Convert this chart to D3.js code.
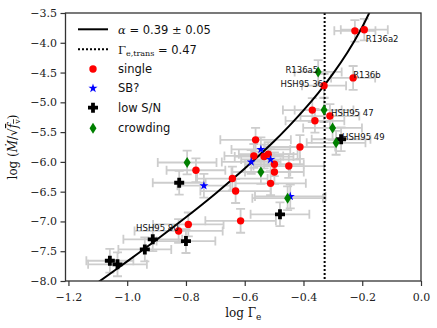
<!DOCTYPE html>
<html>
<head>
<meta charset="utf-8">
<script src="https://cdn.jsdelivr.net/npm/d3@7/dist/d3.min.js"></script>
<style>
  body { margin: 0; background: #fff; }
  .tick text { font-family: "DejaVu Serif", serif; font-size: 11px; fill: #222; }
  .tick line { stroke: #333; stroke-width: 1.2; }
  .domain { display: none; }
  .lab { font-family: "DejaVu Sans", sans-serif; font-size: 8.5px; fill: #111; }
  .leg { font-family: "DejaVu Sans", sans-serif; font-size: 11.5px; fill: #111; }
  .mth { font-family: "DejaVu Serif", serif; }
</style>
</head>
<body>
<div class="chart"></div>
<script>
// chart data (log Gamma_e, log Mdot/sqrt(fv))
var singleX    = [-0.225, -0.193, -0.231, -0.330, -0.370, -0.310, -0.361, -0.412, -0.563, -0.569, -0.534,
                  -0.520, -0.499, -0.450, -0.499, -0.766, -0.642, -0.631, -0.512, -0.614, -0.792, -0.825];
var singleY    = [-3.80, -3.78, -4.59, -4.72, -5.13, -5.23, -5.31, -5.75, -5.63, -5.90, -5.91,
                  -5.87, -6.04, -6.07, -6.17, -6.14, -6.28, -6.49, -6.36, -6.99, -7.05, -7.16];
var singleXErr = [0.07, 0.08, 0.075, 0.075, 0.10, 0.10, 0.10, 0.12, 0.12, 0.10, 0.10,
                  0.10, 0.10, 0.12, 0.10, 0.10, 0.12, 0.12, 0.12, 0.12, 0.12, 0.15];
var singleYErr = [0.18, 0.18, 0.20, 0.20, 0.20, 0.20, 0.20, 0.20, 0.20, 0.20, 0.20,
                  0.20, 0.20, 0.20, 0.20, 0.20, 0.20, 0.20, 0.20, 0.20, 0.20, 0.20];

var sbX    = [-0.545, -0.578, -0.512, -0.739, -0.445];
var sbY    = [-5.79, -6.00, -5.96, -6.40, -6.58];
var sbXErr = [0.10, 0.10, 0.10, 0.09, 0.12];
var sbYErr = [0.20, 0.20, 0.20, 0.20, 0.20];

var lowX    = [-0.272, -0.823, -0.480, -0.800, -0.913, -0.940, -1.059, -1.033];
var lowY    = [-5.62, -6.35, -6.88, -7.33, -7.30, -7.47, -7.66, -7.72];
var lowXErr = [0.10, 0.09, 0.10, 0.10, 0.10, 0.09, 0.08, 0.10];
var lowYErr = [0.20, 0.20, 0.20, 0.20, 0.20, 0.20, 0.20, 0.20];

var crowdX    = [-0.350, -0.330, -0.301, -0.289, -0.545, -0.796, -0.454];
var crowdY    = [-4.49, -5.13, -5.43, -5.68, -6.17, -6.01, -6.61];
var crowdXErr = [0.08, 0.10, 0.10, 0.10, 0.10, 0.10, 0.12];
var crowdYErr = [0.20, 0.20, 0.20, 0.20, 0.20, 0.20, 0.20];

// fitted relation (alpha = 0.39), sampled off the figure
var fitX = [-1.10, -1.00, -0.90, -0.80, -0.70, -0.60, -0.50, -0.45, -0.40, -0.35, -0.30, -0.25, -0.20, -0.175, -0.15];
var fitY = [-8.025, -7.671, -7.308, -6.930, -6.534, -6.112, -5.653, -5.403, -5.135, -4.845, -4.523, -4.160, -3.734, -3.488, -3.21];

var gammaTrans = -0.328; // log10(0.47)

var labelNames = ["R136a2", "R136a5", "R136b", "HSH95 36", "HSH95 47", "HSH95 49", "HSH95 80"];
var labelX     = [-0.193, -0.350, -0.231, -0.330, -0.330, -0.272, -0.825];
var labelY     = [-3.78, -4.49, -4.59, -4.72, -5.13, -5.62, -7.16];

var xTicks = [-1.2, -1.0, -0.8, -0.6, -0.4, -0.2, 0.0];
var yTicks = [-8.0, -7.5, -7.0, -6.5, -6.0, -5.5, -5.0, -4.5, -4.0, -3.5];

//Setting up the chart
var svgWidth = 437;
var svgHeight = 328;
var margin = { top: 13, right: 16, bottom: 47, left: 65.5 };
var width = svgWidth - margin.left - margin.right;
var height = svgHeight - margin.top - margin.bottom;

var svg = d3.select(".chart").append("svg")
  .attr("width", svgWidth)
  .attr("height", svgHeight);

var chart = svg.append("g")
  .attr("transform", "translate(" + margin.left + "," + margin.top + ")");

var xScale = d3.scaleLinear().domain([-1.21, 0.0]).range([0, width]);
var yScale = d3.scaleLinear().domain([-8.0, -3.5]).range([height, 0]);

svg.append("defs").append("clipPath").attr("id", "plotclip")
  .append("rect").attr("width", width).attr("height", height);

var fmt = d3.format(".1f");

chart.append("g")
  .attr("transform", "translate(0," + height + ")")
  .call(d3.axisBottom(xScale).tickValues(xTicks).tickFormat(fmt).tickSize(5).tickPadding(7));

chart.append("g")
  .call(d3.axisLeft(yScale).tickValues(yTicks).tickFormat(fmt).tickSize(5).tickPadding(3.5));

var plot = chart.append("g").attr("clip-path", "url(#plotclip)");

//error bars for every group, drawn under the markers
var groups = [
  { xs: singleX, ys: singleY, xe: singleXErr, ye: singleYErr },
  { xs: sbX, ys: sbY, xe: sbXErr, ye: sbYErr },
  { xs: lowX, ys: lowY, xe: lowXErr, ye: lowYErr },
  { xs: crowdX, ys: crowdY, xe: crowdXErr, ye: crowdYErr }
];

var cap = 4.5;
var errG = plot.append("g").attr("stroke", "#cdcdcd").attr("stroke-width", 1.8).attr("fill", "none");
groups.forEach(function(g) {
  g.xs.forEach(function(xv, i) {
    var cx = xScale(xv), cy = yScale(g.ys[i]);
    var x0 = xScale(xv - g.xe[i]), x1 = xScale(xv + g.xe[i]);
    var y0 = yScale(g.ys[i] - g.ye[i]), y1 = yScale(g.ys[i] + g.ye[i]);
    var d = "M" + x0 + "," + cy + "H" + x1 +
            "M" + x0 + "," + (cy - cap) + "V" + (cy + cap) +
            "M" + x1 + "," + (cy - cap) + "V" + (cy + cap) +
            "M" + cx + "," + y0 + "V" + y1 +
            "M" + (cx - cap) + "," + y0 + "H" + (cx + cap) +
            "M" + (cx - cap) + "," + y1 + "H" + (cx + cap);
    errG.append("path").attr("d", d);
  });
});

//fit curve and transition line
var line = d3.line()
  .x(function(d, i) { return xScale(fitX[i]); })
  .y(function(d, i) { return yScale(fitY[i]); })
  .curve(d3.curveCatmullRom);

plot.append("path")
  .attr("d", line(fitX))
  .attr("fill", "none")
  .attr("stroke", "#000")
  .attr("stroke-width", 2);

plot.append("line")
  .attr("x1", xScale(gammaTrans)).attr("x2", xScale(gammaTrans))
  .attr("y1", 0).attr("y2", height)
  .attr("stroke", "#000")
  .attr("stroke-width", 2)
  .attr("stroke-dasharray", "2,2");

//marker shapes
var diamond = "M0,-5.5L3.5,0L0,5.5L-3.5,0Z";
var star = d3.symbol().type(d3.symbolStar).size(26)();
var plus = "M-1.9,-5H1.9V-1.9H5V1.9H1.9V5H-1.9V1.9H-5V-1.9H-1.9Z";

function drawCircles(xs, ys, color) {
  plot.append("g").selectAll("circle").data(xs).enter().append("circle")
    .attr("cx", function(d) { return xScale(d); })
    .attr("cy", function(d, i) { return yScale(ys[i]); })
    .attr("r", 3.7)
    .attr("fill", color);
}
function drawPaths(xs, ys, shape, color) {
  plot.append("g").selectAll("path").data(xs).enter().append("path")
    .attr("d", shape)
    .attr("transform", function(d, i) { return "translate(" + xScale(d) + "," + yScale(ys[i]) + ")"; })
    .attr("fill", color);
}

drawCircles(singleX, singleY, "#ff0000");
drawPaths(sbX, sbY, star, "#0000ff");
drawPaths(lowX, lowY, plus, "#000");
drawPaths(crowdX, crowdY, diamond, "#008000");

//star labels
var labelDx = [1.5, 0, 0, -1, 7, 1, 0];
var labelDy = [9, -1.5, -2.5, -2, 3, -2.5, -2.5];
var labelAnchor = ["start", "end", "start", "end", "start", "start", "end"];
chart.append("g").selectAll("text").data(labelNames).enter().append("text")
  .attr("class", "lab")
  .attr("x", function(d, i) { return xScale(labelX[i]) + labelDx[i]; })
  .attr("y", function(d, i) { return yScale(labelY[i]) + labelDy[i] + 3; })
  .attr("text-anchor", function(d, i) { return labelAnchor[i]; })
  .text(function(d) { return d; });

//frame
chart.append("rect")
  .attr("width", width).attr("height", height)
  .attr("fill", "none").attr("stroke", "#333").attr("stroke-width", 1.3);

//legend
var leg = svg.append("g");
leg.append("line").attr("x1", 78).attr("x2", 108).attr("y1", 29.3).attr("y2", 29.3)
  .attr("stroke", "#000").attr("stroke-width", 2);
leg.append("line").attr("x1", 78).attr("x2", 108).attr("y1", 49.3).attr("y2", 49.3)
  .attr("stroke", "#000").attr("stroke-width", 2).attr("stroke-dasharray", "2,2");
leg.append("circle").attr("cx", 93).attr("cy", 69).attr("r", 3.7).attr("fill", "#ff0000");
leg.append("path").attr("d", star).attr("transform", "translate(93,88.3)").attr("fill", "#0000ff");
leg.append("path").attr("d", plus).attr("transform", "translate(93,107.7)").attr("fill", "#000");
leg.append("path").attr("d", diamond).attr("transform", "translate(93,128.3)").attr("fill", "#008000");

var t1 = leg.append("text").attr("class", "leg").attr("x", 118).attr("y", 33.5);
t1.append("tspan").attr("class", "mth").attr("font-style", "italic").text("α");
t1.append("tspan").attr("class", "mth").text(" = ");
t1.append("tspan").text("0.39 ");
t1.append("tspan").attr("class", "mth").text("±");
t1.append("tspan").text(" 0.05");

var t2 = leg.append("text").attr("class", "leg").attr("x", 118).attr("y", 53.5);
t2.append("tspan").attr("class", "mth").text("Γ");
t2.append("tspan").attr("class", "mth").attr("font-size", "8px").attr("dy", 2.5).text("e,trans");
t2.append("tspan").attr("class", "mth").attr("dy", -2.5).text(" = ");
t2.append("tspan").text("0.47");

var legNames = ["single", "SB?", "low S/N", "crowding"];
var legY = [69, 88.3, 107.7, 128.3];
leg.selectAll("text.nm").data(legNames).enter().append("text")
  .attr("class", "leg nm")
  .attr("x", 118)
  .attr("y", function(d, i) { return legY[i] + 4; })
  .text(function(d) { return d; });

//axis labels
var xl = svg.append("text")
  .attr("x", margin.left + width / 2).attr("y", 317)
  .attr("text-anchor", "middle")
  .attr("font-family", "DejaVu Serif, serif").attr("font-size", 12).attr("fill", "#111");
xl.append("tspan").text("log Γ");
xl.append("tspan").attr("font-size", 9).attr("dy", 3).text("e");

var yl = svg.append("text")
  .attr("transform", "translate(17," + (margin.top + height / 2) + ") rotate(-90)")
  .attr("text-anchor", "middle")
  .attr("font-family", "DejaVu Serif, serif").attr("font-size", 12).attr("fill", "#111");
yl.append("tspan").text("log (");
yl.append("tspan").attr("font-style", "italic").text("Ṁ");
yl.append("tspan").text("/√");
yl.append("tspan").attr("font-style", "italic").attr("text-decoration", "overline").text("f");
yl.append("tspan").attr("font-size", 8).attr("dy", 3).attr("text-decoration", "overline").text("v");
yl.append("tspan").attr("dy", -3).text(")");
</script>
</body>
</html>
